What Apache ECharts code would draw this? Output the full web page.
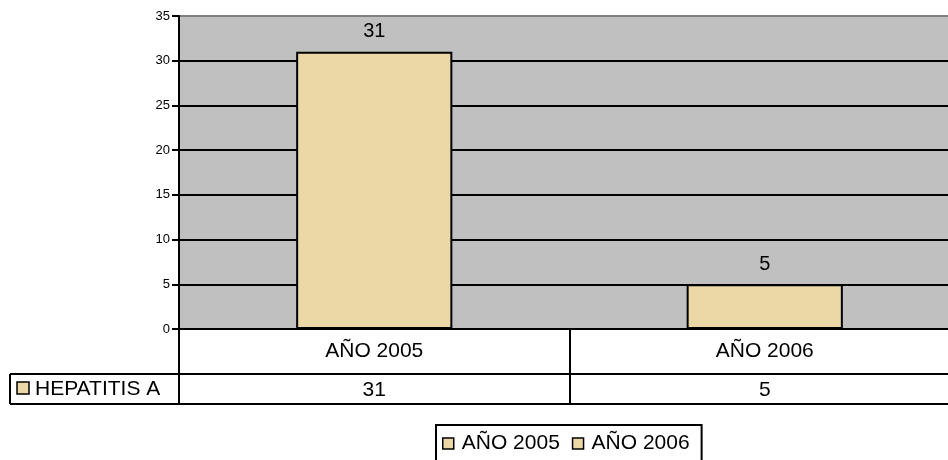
<!DOCTYPE html>
<html><head><meta charset="utf-8">
<script src="https://cdn.jsdelivr.net/npm/echarts@6/dist/echarts.min.js"></script>
<style>html,body{margin:0;padding:0;background:#fff}#c{width:948px;height:460px}</style>
</head><body><div id="c"></div>
<script>
var categories = ['AÑO 2005', 'AÑO 2006'];
var values = [31, 5];
var seriesName = 'HEPATITIS A';
var yTicks = [0, 5, 10, 15, 20, 25, 30, 35];

var FONT = '"Liberation Sans", Arial, sans-serif';
var BAR = '#ebd8a6';
var chart = echarts.init(document.getElementById('c'));

var series = categories.map(function (c, i) {
  return {
    name: c, type: 'bar', barWidth: '40%', barGap: '-100%',
    data: values.map(function (v, j) { return j === i ? v : null; }),
    itemStyle: { color: BAR, borderColor: '#000', borderWidth: 2 },
    label: { show: true, position: 'top', distance: 10, color: '#000', fontSize: 20, fontFamily: FONT },
    emphasis: { disabled: true }
  };
});

chart.setOption({
  animation: false,
  textStyle: { fontFamily: FONT },
  grid: { left: 179, top: 16, width: 781, height: 313, outerBoundsMode: 'none', containLabel: false,
    show: true, backgroundColor: '#c0c0c0', borderColor: '#808080', borderWidth: 2 },
  legend: {
    data: categories, left: 436, top: 425, orient: 'horizontal',
    borderColor: '#000', borderWidth: 2, padding: [8, 12, 20, 6], itemGap: 12,
    itemWidth: 11, itemHeight: 11, icon: 'rect',
    itemStyle: { borderColor: '#000', borderWidth: 1.5 },
    textStyle: { fontSize: 21, color: '#000', fontFamily: FONT, padding: [0, 0, 0, 3] }
  },
  xAxis: [{
    type: 'category', data: categories, position: 'bottom',
    axisLine: { lineStyle: { color: '#000', width: 2 } },
    axisTick: { show: true, length: 75, alignWithLabel: false, lineStyle: { color: '#000', width: 2 } },
    axisLabel: { color: '#000', fontSize: 21, margin: 12, fontFamily: FONT }
  }, {
    type: 'category', data: categories, position: 'bottom', offset: 45,
    axisLine: { show: false }, axisTick: { show: false },
    axisLabel: { color: '#000', fontSize: 21, margin: 6, fontFamily: FONT,
      formatter: function (v, i) { return String(values[i]); } }
  }],
  yAxis: {
    type: 'value', min: yTicks[0], max: yTicks[yTicks.length - 1], interval: 5,
    axisLine: { show: true, lineStyle: { color: '#000', width: 2 } },
    axisTick: { show: true, length: 7, lineStyle: { color: '#000', width: 2 } },
    axisLabel: { color: '#000', fontSize: 13, margin: 9, fontFamily: FONT },
    splitLine: { show: true, showMaxLine: false, lineStyle: { color: '#000', width: 2 } }
  },
  series: series
});

function drawTable() {
  var y0 = chart.convertToPixel({ yAxisIndex: 0 }, 0);
  var r1 = y0 + 45, r2 = y0 + 75;
  chart.setOption({
    graphic: [
      { type: 'line', shape: { x1: 10, y1: r1, x2: 960, y2: r1 }, style: { stroke: '#000', lineWidth: 2 } },
      { type: 'line', shape: { x1: 10, y1: r2, x2: 960, y2: r2 }, style: { stroke: '#000', lineWidth: 2 } },
      { type: 'line', shape: { x1: 10, y1: r1, x2: 10, y2: r2 }, style: { stroke: '#000', lineWidth: 2 } },
      { type: 'rect', shape: { x: 17, y: r1 + 8, width: 12, height: 12 }, style: { fill: BAR, stroke: '#000', lineWidth: 1.5 } },
      { type: 'text', x: 35, y: r1 + 15, style: { text: seriesName, fill: '#000', font: '21px ' + FONT, textVerticalAlign: 'middle' } }
    ]
  });
}
drawTable();
</script></body></html>
